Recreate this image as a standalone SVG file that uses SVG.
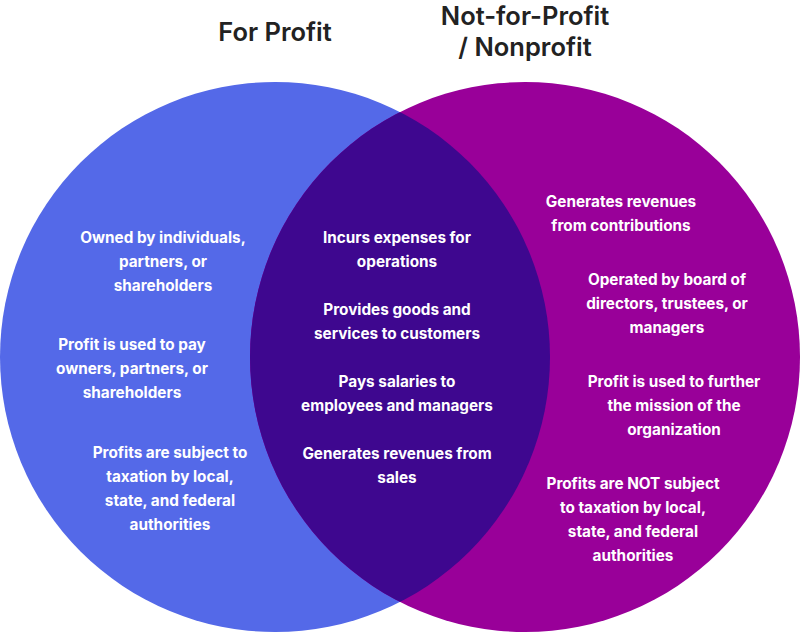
<svg xmlns="http://www.w3.org/2000/svg" width="800" height="632" viewBox="0 0 800 632">
<style>
.t{font-family:Inter,"Open Sans","Liberation Sans",sans-serif;font-weight:700;font-size:15.3px;fill:#ffffff;text-anchor:middle}
.h{font-family:Inter,"Open Sans","Liberation Sans",sans-serif;font-weight:600;font-size:25.5px;fill:#222222;text-anchor:middle}
</style>
<defs>
<clipPath id="clipL"><circle cx="275" cy="357" r="275"/></clipPath>
</defs>
<rect width="800" height="632" fill="#ffffff"/>
<g id="title-for-profit"><text class="h" x="275" y="41">For Profit</text></g>
<g id="title-nonprofit"><text class="h" x="525" y="25">Not-for-Profit</text><text class="h" x="525" y="56">/ Nonprofit</text></g>
<g id="circle-for-profit"><circle cx="275" cy="357" r="275" fill="#5469E8"/></g>
<g id="circle-nonprofit"><circle cx="525" cy="357" r="275" fill="#990099"/></g>
<g id="overlap"><circle cx="525" cy="357" r="275" fill="#3E078F" clip-path="url(#clipL)"/></g>
<g id="connectors"></g>
<g id="left-items">
<text class="t" x="163" y="243">Owned by individuals,</text>
<text class="t" x="163" y="267">partners, or</text>
<text class="t" x="163" y="291">shareholders</text>
<text class="t" x="132" y="350">Profit is used to pay</text>
<text class="t" x="132" y="374">owners, partners, or</text>
<text class="t" x="132" y="398">shareholders</text>
<text class="t" x="170" y="458">Profits are subject to</text>
<text class="t" x="170" y="482">taxation by local,</text>
<text class="t" x="170" y="506">state, and federal</text>
<text class="t" x="170" y="530">authorities</text>
</g>
<g id="middle-items">
<text class="t" x="397" y="243">Incurs expenses for</text>
<text class="t" x="397" y="267">operations</text>
<text class="t" x="397" y="315">Provides goods and</text>
<text class="t" x="397" y="339">services to customers</text>
<text class="t" x="397" y="387">Pays salaries to</text>
<text class="t" x="397" y="411">employees and managers</text>
<text class="t" x="397" y="459">Generates revenues from</text>
<text class="t" x="397" y="483">sales</text>
</g>
<g id="right-items">
<text class="t" x="621" y="207">Generates revenues</text>
<text class="t" x="621" y="231">from contributions</text>
<text class="t" x="667" y="285">Operated by board of</text>
<text class="t" x="667" y="309">directors, trustees, or</text>
<text class="t" x="667" y="333">managers</text>
<text class="t" x="674" y="387">Profit is used to further</text>
<text class="t" x="674" y="411">the mission of the</text>
<text class="t" x="674" y="435">organization</text>
<text class="t" x="633" y="489">Profits are NOT subject</text>
<text class="t" x="633" y="513">to taxation by local,</text>
<text class="t" x="633" y="537">state, and federal</text>
<text class="t" x="633" y="561">authorities</text>
</g>
</svg>
